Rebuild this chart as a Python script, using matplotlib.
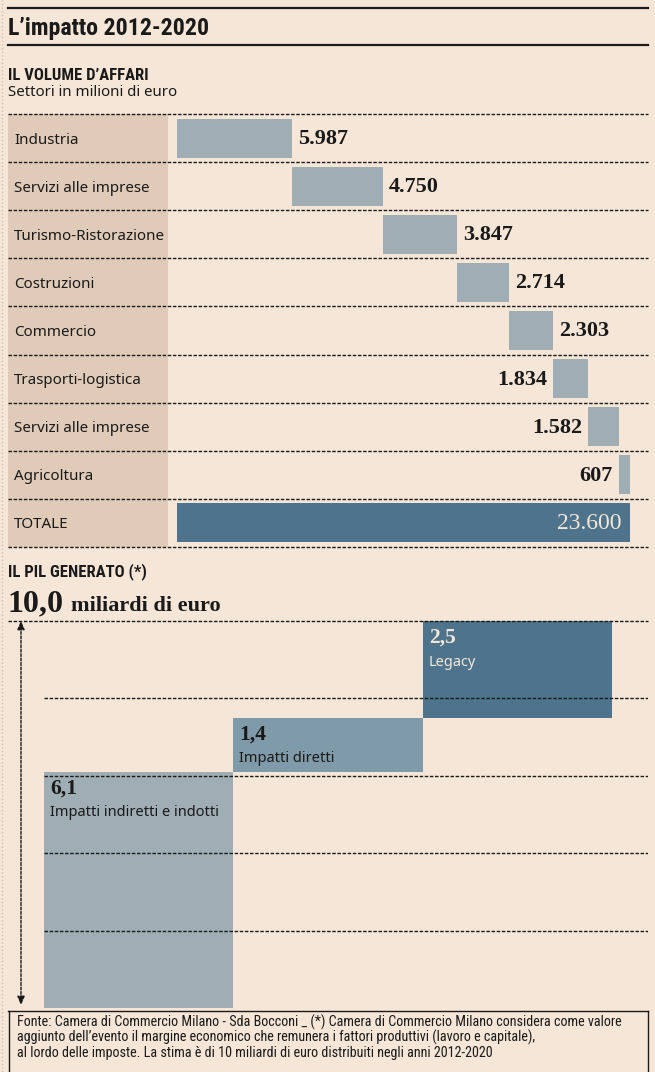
import matplotlib
matplotlib.use("Agg")
import matplotlib.pyplot as plt
from matplotlib import font_manager
from matplotlib.patches import Rectangle
from matplotlib.lines import Line2D
import matplotlib.transforms as mtransforms

# --- data ---
sectors = ["Industria", "Servizi alle imprese", "Turismo-Ristorazione", "Costruzioni",
           "Commercio", "Trasporti-logistica", "Servizi alle imprese", "Agricoltura"]
volumes = [5987, 4750, 3847, 2714, 2303, 1834, 1582, 607]
total_label = "TOTALE"
total_volume = 23600

pil_parts = ["Impatti indiretti e indotti", "Impatti diretti", "Legacy"]
pil_values = [6.1, 1.4, 2.5]
pil_total = 10.0
pil_grid = [2, 4, 6, 8]

footer = ["Fonte: Camera di Commercio Milano - Sda Bocconi _ (*) Camera di Commercio Milano considera come valore",
          "aggiunto dell’evento il margine economico che remunera i fattori produttivi (lavoro e capitale),",
          "al lordo delle imposte. La stima è di 10 miliardi di euro distribuiti negli anni 2012-2020"]

# --- style ---
BG = "#f5e6d7"
TAN = "#e0cbb8"
LIGHT = "#9fadb5"
MID = "#7f9aa8"
DARK = "#4d748c"
INK = "#1a1a1a"
DOTS = (0, (2.5, 1.2))

names = {f.name for f in font_manager.fontManager.ttflist}


def pick(*fams):
    for f in fams:
        if f in names:
            return f
    return "DejaVu Sans"


COND = pick("Liberation Sans Narrow", "Roboto Condensed", "Roboto")
SANS = pick("Noto Sans", "Lato")
SERIF = pick("Liberation Serif", "DejaVu Serif")

W, H = 655, 1072
fig = plt.figure(figsize=(W / 100, H / 100), dpi=100, facecolor=BG)


def rect(x0, y0, x1, y1):
    return [x0 / W, 1 - y1 / H, (x1 - x0) / W, (y1 - y0) / H]


def fx(x):
    return x / W


def fy(y):
    return 1 - y / H


# faint border on the left
fig.add_artist(Line2D([fx(1.5), fx(1.5)], [0, 1], color="#d6c1ad", lw=1, ls=":"))

# title block
fig.add_artist(Line2D([fx(8), fx(648)], [fy(7.5), fy(7.5)], color=INK, lw=1.6))
fig.add_artist(Line2D([fx(8), fx(648)], [fy(45), fy(45)], color=INK, lw=1.6))
fig.text(fx(8), fy(28), "L’impatto 2012-2020", family=COND, weight="bold",
         fontsize=17.2, color=INK, va="center")

fig.text(fx(8), fy(75), "IL VOLUME D’AFFARI", family=COND, weight="bold",
         fontsize=12, color=INK, va="center")
fig.text(fx(8), fy(93), "Settori in milioni di euro", family=SANS,
         fontsize=10.8, color=INK, va="center")

# --- top: waterfall of business volume ---
ax1 = fig.add_axes(rect(8, 114, 648, 547))
ax1.patch.set_visible(False)
ppu = (630 - 177) / total_volume
ax1.set_xlim(-(177 - 8) / ppu, total_volume + (648 - 630) / ppu)
nrows = len(sectors) + 1
ax1.set_ylim(nrows, 0)
ax1.axis("off")

ytr = ax1.get_yaxis_transform()
ax1.add_patch(Rectangle((0, 0), (168 - 8) / 640, nrows, transform=ytr,
                        color=TAN, zorder=0, lw=0))


def row_label(i, text):
    ax1.annotate(text, (0.0095, i + 0.5), xycoords=ytr, xytext=(0, -2),
                 textcoords="offset pixels", family=SANS, fontsize=10.9,
                 color=INK, va="center", ha="left")


start = 0
for i, (name, v) in enumerate(zip(sectors, volumes)):
    ax1.barh(i + 0.5, v, left=start, height=0.81, color=LIGHT, zorder=1)
    row_label(i, name)
    lab = f"{v:,}".replace(",", ".")
    end = start + v
    if end > 20000:
        ax1.annotate(lab, (start, i + 0.5), xytext=(-6, -1), textcoords="offset pixels",
                     ha="right", va="center", family=SERIF, weight="bold",
                     fontsize=16, color=INK)
    else:
        ax1.annotate(lab, (end, i + 0.5), xytext=(6, -1), textcoords="offset pixels",
                     ha="left", va="center", family=SERIF, weight="bold",
                     fontsize=16, color=INK)
    start = end

ti = len(sectors)
ax1.barh(ti + 0.5, total_volume, left=0, height=0.81, color=DARK, zorder=1)
row_label(ti, total_label)
ax1.annotate(f"{total_volume:,}".replace(",", "."), (total_volume, ti + 0.5),
             xytext=(-9, -1), textcoords="offset pixels", ha="right", va="center",
             family=SERIF, fontsize=17, color=BG)

for k in range(nrows + 1):
    ax1.axhline(k, color=INK, lw=1, ls=DOTS, zorder=3, clip_on=False)

# --- bottom: GDP stack ---
fig.text(fx(8), fy(572), "IL PIL GENERATO (*)", family=COND, weight="bold",
         fontsize=12, color=INK, va="center")
t_big = fig.text(fx(8), fy(611), f"{pil_total:.1f}".replace(".", ","), family=SERIF,
                 weight="bold", fontsize=23, color=INK, va="baseline")
fig.canvas.draw()
bb = t_big.get_window_extent(fig.canvas.get_renderer())
fig.text(bb.x1 / W + fx(7), fy(611), "miliardi di euro", family=SERIF, weight="bold",
         fontsize=16, color=INK, va="baseline")

ax2 = fig.add_axes(rect(8, 621, 648, 1008))
ax2.patch.set_visible(False)
n = len(pil_values)
ppu2 = (612 - 44) / n
xr = n + (648 - 612) / ppu2
ax2.set_xlim(-(44 - 8) / ppu2, xr)
ax2.set_ylim(0, pil_total)
ax2.axis("off")

colors = [LIGHT, MID, DARK]
text_cols = [INK, INK, BG]
bottom = 0
for i, (name, v) in enumerate(zip(pil_parts, pil_values)):
    ax2.bar(i, v, bottom=bottom, width=1, align="edge", color=colors[i], zorder=1)
    top = bottom + v
    ax2.annotate(f"{v:.1f}".replace(".", ","), (i, top), xytext=(6, -17),
                 textcoords="offset pixels", ha="left", va="center", family=SERIF,
                 weight="bold", fontsize=15.5, color=text_cols[i], zorder=4)
    ax2.annotate(name, (i, top), xytext=(6, -41), textcoords="offset pixels",
                 ha="left", va="center", family=SANS, fontsize=10.5,
                 color=text_cols[i], zorder=4)
    bottom = top

ax2.axhline(pil_total, color=INK, lw=1, ls=DOTS, zorder=3, clip_on=False)
ax2.hlines(pil_grid, 0, xr, color=INK, lw=1, ls=DOTS, zorder=3)

atr = mtransforms.blended_transform_factory(ax2.transAxes, ax2.transData)
ax_x = (21 - 8) / 640
ax2.annotate("", xy=(ax_x, pil_total), xytext=(ax_x, 0.08), xycoords=atr, textcoords=atr,
             arrowprops=dict(arrowstyle="<|-|>,head_length=0.5,head_width=0.22",
                             color=INK, lw=1, ls=(0, (2, 1.2)), shrinkA=0, shrinkB=0),
             annotation_clip=False)

# --- footer ---
fig.add_artist(Line2D([fx(8), fx(648)], [fy(1011), fy(1011)], color=INK, lw=1))
fig.add_artist(Line2D([fx(8.5), fx(8.5)], [fy(1011), 0], color=INK, lw=1))
fig.add_artist(Line2D([fx(647.5), fx(647.5)], [fy(1011), 0], color=INK, lw=1))
for j, line in enumerate(footer):
    fig.text(fx(17), fy(1022 + 15.3 * j), line, family=COND, fontsize=10.2,
             color=INK, va="center")

fig.savefig("out.png", dpi=100, facecolor=BG)
